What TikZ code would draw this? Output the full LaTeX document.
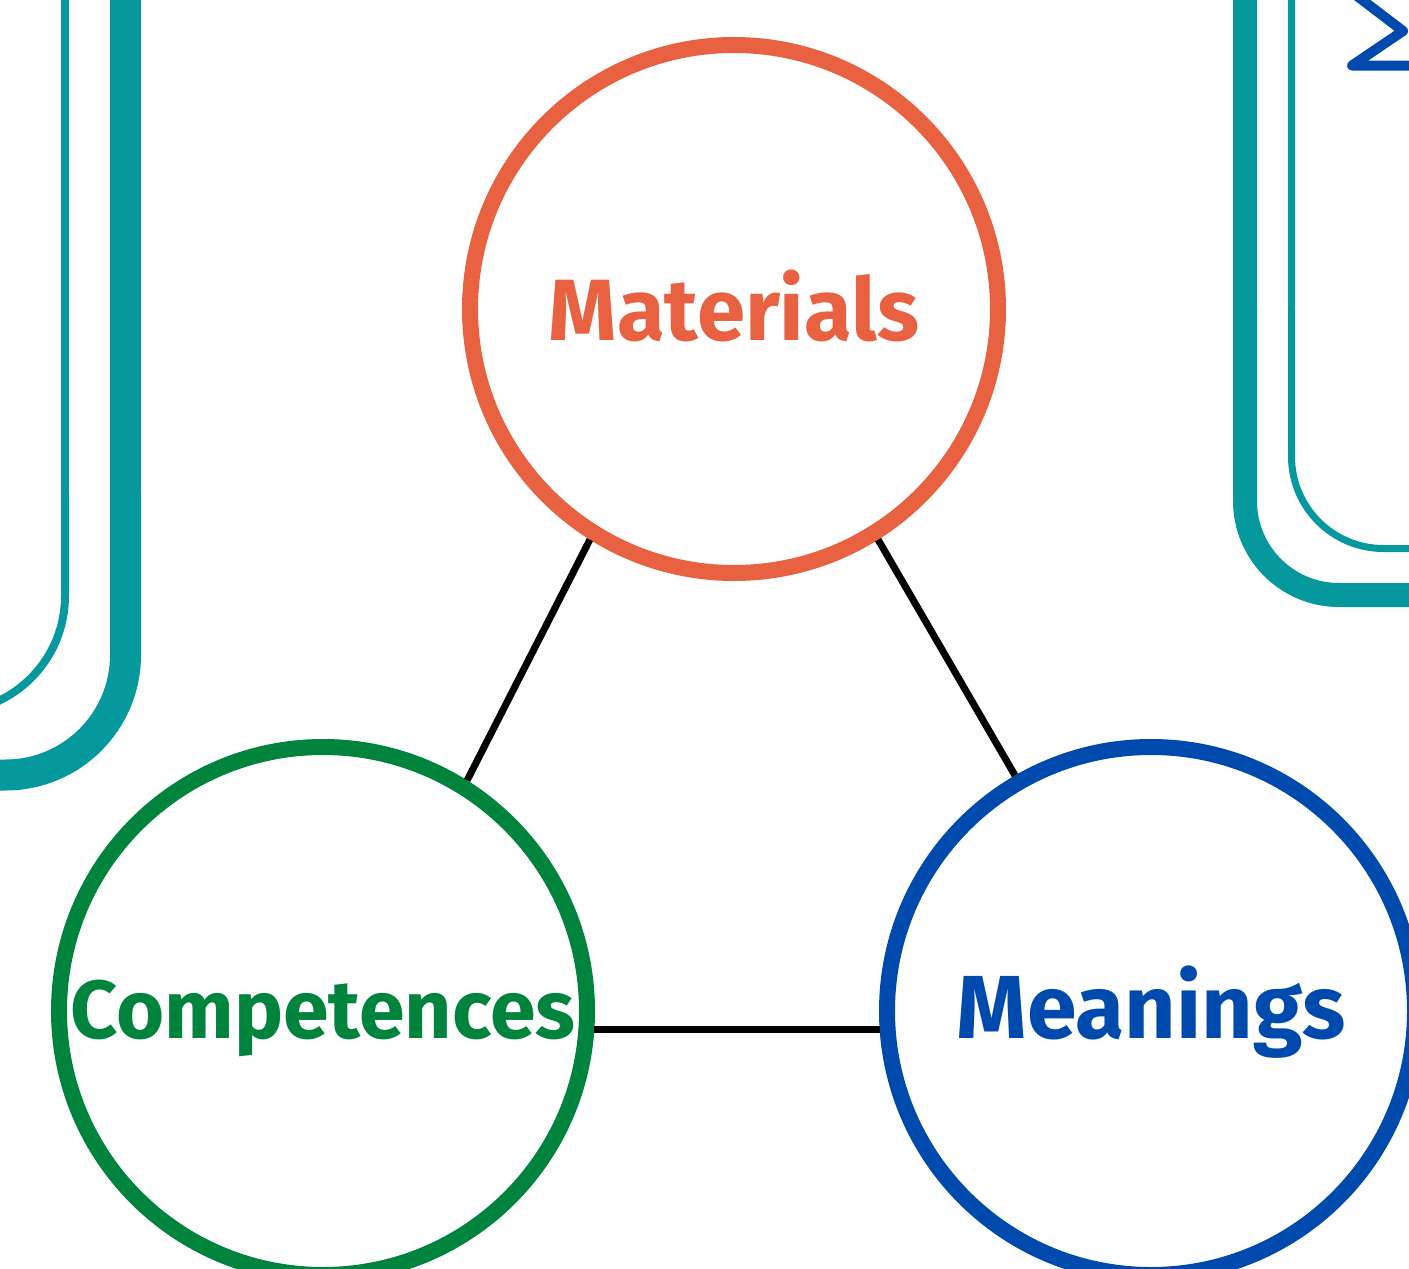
\documentclass[tikz,border=0pt]{standalone}
\usepackage{fontspec}
\setmainfont{Fira Sans}
\usetikzlibrary{positioning}
\definecolor{matorange}{HTML}{E86241}
\definecolor{compgreen}{HTML}{00843D}
\definecolor{meanblue}{HTML}{004AAD}
\definecolor{railteal}{HTML}{05999E}
\tikzset{
  ring/.style    ={circle,line width=8pt,minimum size=264pt,inner sep=0pt,fill=white},
  word/.style    ={font=\fontsize{#1}{48}\selectfont\bfseries,inner sep=0pt,
                   text height=31pt,text depth=0pt},
  word/.default  =43.5,
  tie/.style     ={line width=3.5pt,draw=black},
  rail/.style    ={draw=railteal,line width=15.5pt},
  thinrail/.style={draw=railteal,line width=4pt}
}

\begin{document}
\begin{tikzpicture}[x=0.5pt,y=-0.5pt]
  \useasboundingbox (0,0) rectangle (1409,1269);
  \clip (0,0) rectangle (1409,1269);
  % teal rails, left
  \draw[rail] (125.5,-10) -- (125.5,492);
  \draw[rail,rounded corners=60pt] (125.5,492) -- (125.5,775) -- (-60,775);
  \draw[thinrail] (65,-10) -- (65,492);
  \draw[thinrail,rounded corners=58pt] (65,492) -- (65,712) -- (-120,712);
  % teal rails, right
  \draw[rail,line width=12pt] (1245,-10) -- (1245,310);
  \draw[rail,line width=12pt,rounded corners=47pt] (1245,310) -- (1245,595) -- (1430,595);
  \draw[thinrail,line width=3.5pt] (1291.5,-10) -- (1291.5,310);
  \draw[thinrail,line width=3.5pt,rounded corners=46pt] (1291.5,310) -- (1291.5,548.5) -- (1430,548.5);
  % sigma corner
  \draw[meanblue,line width=5pt,line join=round] (1357,-4) -- (1403,31) -- (1352,65.5) -- (1430,65.5);
  % the three rings
  \node[ring,draw=matorange,label={[word,matorange]center:Materials}] (mat) at (734,309) {};
  \node[ring,draw=compgreen,label={[word=41.2,compgreen,yshift=2pt]center:Competences},
        on grid,below left=351pt and 205.5pt of mat] (comp) {};
  \node[ring,draw=meanblue,label={[word=44.8,meanblue,yshift=2pt]center:Meanings},
        on grid,right=414pt of comp] (mean) {};
  \draw[tie] (mat.238.7) -- (comp.58.4);
  \draw[tie] (mat.302.7) -- (mean.120);
  \draw[tie] (comp.-4.4) -- (mean.184.4);
\end{tikzpicture}
\end{document}
